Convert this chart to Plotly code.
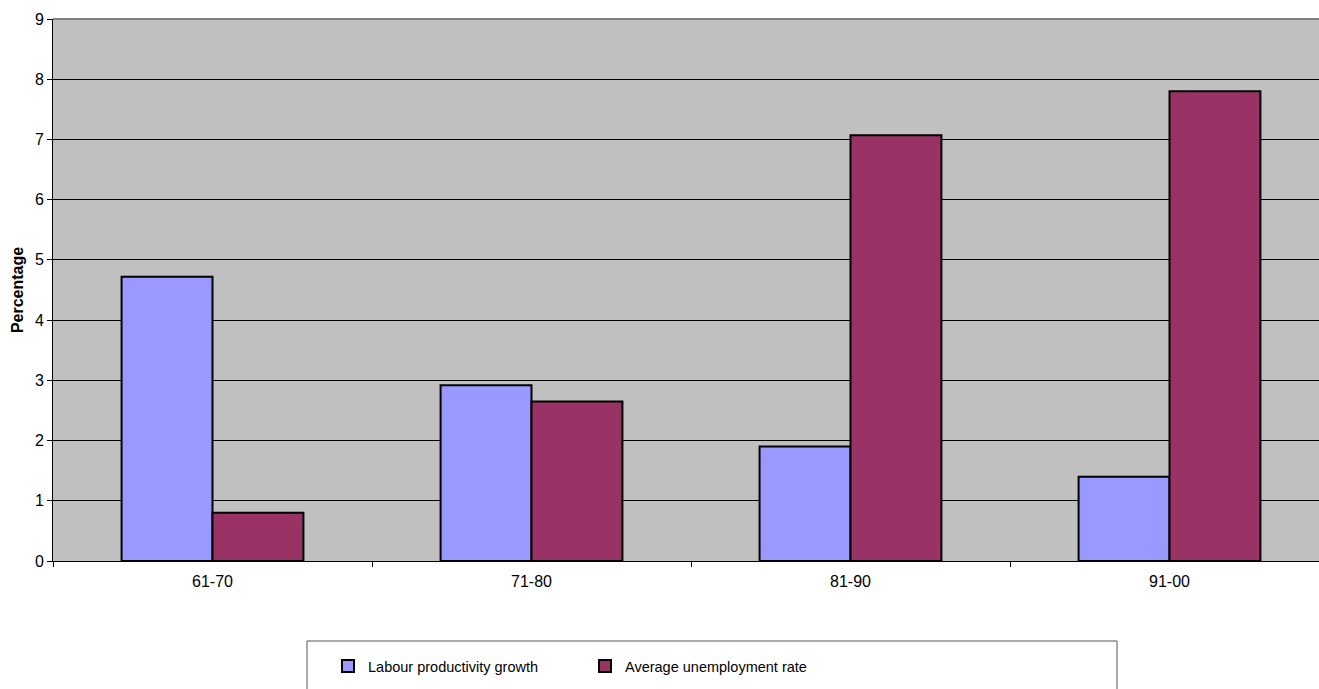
import plotly.graph_objects as go

categories = ["61-70", "71-80", "81-90", "91-00"]
labour_productivity = [4.72, 2.92, 1.90, 1.40]
unemployment_rate = [0.80, 2.65, 7.07, 7.80]
y_ticks = [0, 1, 2, 3, 4, 5, 6, 7, 8, 9]

W, H = 1319, 689
ML, MR, MT, MB = 53, 0, 19, 128
pw = W - ML - MR
ph = H - MT - MB

def px_x(p):
    return (p - ML) / pw

def px_y(p):
    return (H - MB - p) / ph

FONT = "Liberation Sans, Arial, sans-serif"

fig = go.Figure()
fig.add_trace(go.Bar(x=categories, y=labour_productivity, name="Labour productivity growth",
                     marker=dict(color="#9999FF", line=dict(color="black", width=2))))
fig.add_trace(go.Bar(x=categories, y=unemployment_rate, name="Average unemployment rate",
                     marker=dict(color="#993366", line=dict(color="black", width=2))))

fig.update_layout(
    width=W, height=H,
    margin=dict(l=ML, r=MR, t=MT, b=MB, autoexpand=False),
    paper_bgcolor="white", plot_bgcolor="#C0C0C0",
    font=dict(family=FONT, size=16, color="black"),
    barmode="group", bargap=0.43, bargroupgap=0,
    showlegend=True,
    legend=dict(orientation="h", x=px_x(328), y=px_y(650), xanchor="left", yanchor="top",
                font=dict(family=FONT, size=14.5, color="black"), entrywidth=212,
                entrywidthmode="pixels",
                bgcolor="rgba(0,0,0,0)", borderwidth=0, itemclick=False),
    xaxis=dict(type="category", range=[-0.5, -0.5 + pw / 319.0], showgrid=False,
               ticks="outside", tickson="boundaries", ticklen=5, tickcolor="black",
               showline=True, linecolor="black", linewidth=1,
               tickfont=dict(family=FONT, size=16), ticklabelstandoff=6),
    yaxis=dict(range=[0, 9], tickvals=y_ticks, showgrid=True, gridcolor="black", gridwidth=1,
               ticks="outside", ticklen=5, tickcolor="black", showline=True, linecolor="black",
               linewidth=1, zeroline=False, tickfont=dict(family=FONT, size=16),
               title=dict(text="<b>Percentage</b>",
                          font=dict(family=FONT, size=16),
                          standoff=7)),
    shapes=[
        dict(type="line", xref="paper", yref="paper", x0=0, x1=1, y0=1, y1=1,
             line=dict(color="#808080", width=2)),
        dict(type="rect", xref="paper", yref="paper", x0=px_x(307), x1=px_x(1117),
             y0=px_y(720), y1=px_y(641), line=dict(color="#555555", width=1),
             fillcolor="rgba(0,0,0,0)"),
    ],
)

fig.write_html("out.html")
